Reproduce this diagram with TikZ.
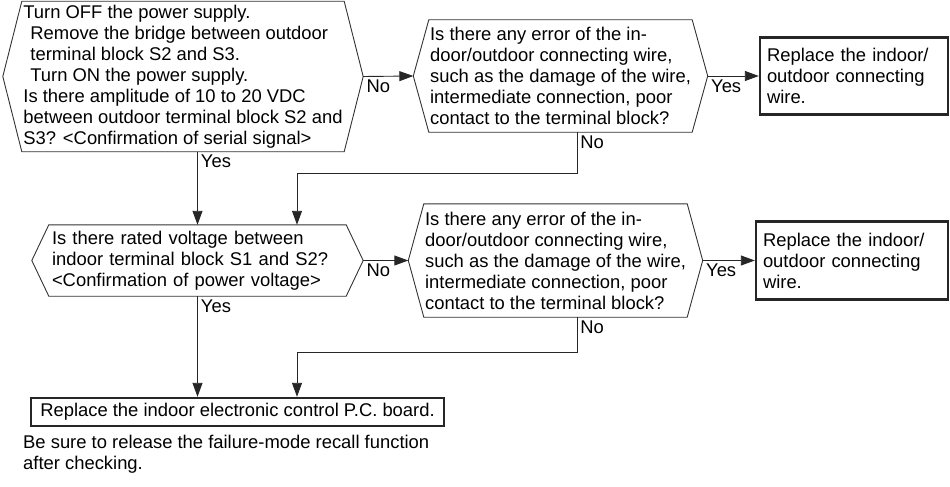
\documentclass[tikz,border=0pt]{standalone}
\usepackage{fontspec}
\setmainfont{Liberation Sans}
\usetikzlibrary{arrows.meta}
\tikzset{
  txt/.style={font=\fontsize{18.4}{21}\selectfont, text=black},
  ask/.style={txt, align=left, inner sep=0pt},
  act/.style={txt, draw=black!85, line width=2.4pt, align=left, inner xsep=7pt, inner ysep=0pt},
  hexline/.style={draw=black!80, line width=0.9pt},
  flow/.style={draw=black!85, line width=0.9pt, ->},
  lab/.style={txt, inner sep=3pt},
}
\begin{document}
\begin{tikzpicture}[x=1pt, y=-1pt, >={Triangle[length=14pt,width=10pt]}]
\useasboundingbox (0,0) rectangle (950,487);
\node[ask, minimum width=322pt, minimum height=150pt] (h1) at (183,76.5) {Turn OFF the power supply.\\\hspace*{7pt}Remove the bridge between outdoor\\\hspace*{7pt}terminal block S2 and S3.\\\hspace*{7pt}Turn ON the power supply.\\Is there amplitude of 10 to 20 VDC\\between outdoor terminal block S2 and\\S3? <Confirmation of serial signal>};
\node[ask, minimum width=263pt, minimum height=112pt] (h2) at (560.5,76) {Is there any error of the in-\\door/outdoor connecting wire,\\such as the damage of the wire,\\intermediate connection, poor\\contact to the terminal block?};
\node[act, minimum width=188pt, minimum height=77pt, text width=174pt] (r1) at (854,76) {Replace the indoor/\\outdoor connecting\\wire.};
\node[ask, minimum width=297pt, minimum height=71pt, text width=291pt, inner xsep=3pt] (h3) at (197.5,260.5) {Is there rated voltage between\\indoor terminal block S1 and S2?\\<Confirmation of power voltage>};
\node[ask, minimum width=263pt, minimum height=113pt] (h4) at (555.5,260.5) {Is there any error of the in-\\door/outdoor connecting wire,\\such as the damage of the wire,\\intermediate connection, poor\\contact to the terminal block?};
\node[act, minimum width=192pt, minimum height=78pt, text width=178pt] (r2) at (852,260.5) {Replace the indoor/\\outdoor connecting\\wire.};
\node[act, minimum width=413pt, minimum height=28pt] (pcb) at (237.5,412) {Replace the indoor electronic control P.C. board.};
\node[txt, align=left, anchor=north west, inner sep=0pt] (note) at (23,435) {Be sure to release the failure-mode recall function\\after checking.};

\coordinate (h1l) at ([xshift=-19pt]h1.west);
\coordinate (h1r) at ([xshift=19pt]h1.east);
\coordinate (h2l) at ([xshift=-15.5pt]h2.west);
\coordinate (h2r) at ([xshift=15.5pt]h2.east);
\coordinate (h3l) at ([xshift=-17pt]h3.west);
\coordinate (h3r) at ([xshift=17pt]h3.east);
\coordinate (h4l) at ([xshift=-15.5pt]h4.west);
\coordinate (h4r) at ([xshift=15.5pt]h4.east);
\draw[hexline] (h1.north west) -- (h1.north east) -- (h1r) -- (h1.south east) -- (h1.south west) -- (h1l) -- cycle;
\draw[hexline] (h2.north west) -- (h2.north east) -- (h2r) -- (h2.south east) -- (h2.south west) -- (h2l) -- cycle;
\draw[hexline] (h3.north west) -- (h3.north east) -- (h3r) -- (h3.south east) -- (h3.south west) -- (h3l) -- cycle;
\draw[hexline] (h4.north west) -- (h4.north east) -- (h4r) -- (h4.south east) -- (h4.south west) -- (h4l) -- cycle;

\coordinate (j1) at (297,173);
\coordinate (j2) at (297,352);
\draw[flow] (h1r) node[lab, anchor=north west] {No} -- (h2l);
\draw[flow] (h2r) node[lab, anchor=north west] {Yes} -- (r1.west);
\draw[flow] (h1.south -| h3.north) node[lab, anchor=north west] {Yes} -- (h3.north);
\draw[flow] ([xshift=16.5pt]h2.south) node[lab, anchor=north west] {No} |- (j1) -- (j1 |- h3.north);
\draw[flow] (h3r) node[lab, anchor=north west] {No} -- (h4l);
\draw[flow] (h4r) node[lab, anchor=north west] {Yes} -- (r2.west);
\draw[flow] (h3.south) node[lab, anchor=north west] {Yes} -- (h3.south |- pcb.north);
\draw[flow] ([xshift=21.5pt]h4.south) node[lab, anchor=north west] {No} |- (j2) -- (j2 |- pcb.north);
\end{tikzpicture}
\end{document}
